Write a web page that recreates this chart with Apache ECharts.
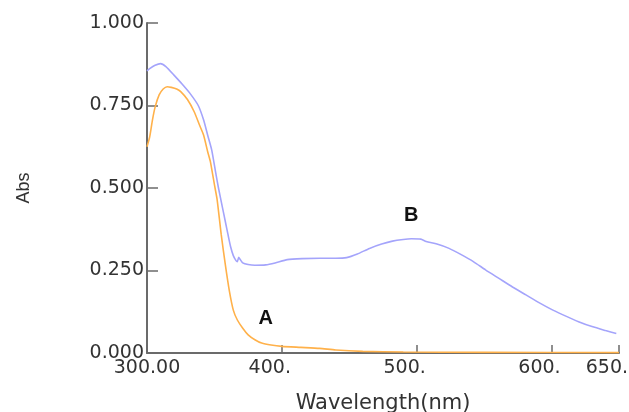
<!DOCTYPE html>
<html>
<head>
<meta charset="utf-8">
<script src="https://cdn.jsdelivr.net/npm/echarts@6/dist/echarts.min.js"></script>
<style>
  html, body { margin: 0; padding: 0; background: #fff; }
  #chart { width: 629px; height: 412px; }
</style>
</head>
<body>
<div id="chart"></div>
<script>
// wavelength ticks shown on the x axis
var xTicks = [300, 400, 500, 600, 650];
var xTickLabels = ['300.00', '400.', '500.', '600.', '650.'];

// curve B (blue)
var seriesB = [
  [300, 0.855], [302, 0.862], [306, 0.872], [310, 0.877], [314, 0.868], [320, 0.842],
  [326, 0.815], [332, 0.786], [338, 0.750], [342, 0.706], [345, 0.660], [348, 0.615],
  [351, 0.545], [353, 0.500], [356, 0.440], [358, 0.400], [360, 0.360], [362, 0.322],
  [364, 0.295], [366, 0.280], [367, 0.277], [368, 0.290], [369, 0.284], [371, 0.273],
  [375, 0.268], [380, 0.266], [388, 0.267], [395, 0.273], [404, 0.283], [415, 0.286],
  [428, 0.287], [440, 0.287], [448, 0.289], [456, 0.300], [465, 0.317], [474, 0.330],
  [482, 0.339], [490, 0.344], [496, 0.346], [503, 0.345], [507, 0.338], [515, 0.330],
  [524, 0.317], [533, 0.298], [542, 0.277], [551, 0.252], [561, 0.226], [571, 0.200],
  [581, 0.176], [591, 0.152], [601, 0.130], [611, 0.111], [620, 0.095], [630, 0.080],
  [640, 0.068], [648, 0.059]
];

// curve A (orange)
var seriesA = [
  [300, 0.625], [302, 0.655], [304, 0.705], [306, 0.745], [309, 0.782], [312, 0.800],
  [315, 0.807], [318, 0.805], [322, 0.800], [325, 0.792], [330, 0.768], [335, 0.731],
  [339, 0.690], [342, 0.660], [345, 0.610], [347, 0.580], [350, 0.510], [352, 0.465],
  [355, 0.360], [358, 0.270], [361, 0.190], [364, 0.130], [367, 0.100], [371, 0.075],
  [375, 0.055], [380, 0.040], [385, 0.030], [392, 0.024], [400, 0.020], [414, 0.017],
  [428, 0.014], [440, 0.009], [460, 0.005], [490, 0.003], [550, 0.002], [650, 0.001]
];

// where the letters A and B sit
var labelA = [388, 0.106];
var labelB = [496, 0.418];

var dom = document.getElementById('chart');
var myChart = echarts.init(dom, null, { renderer: 'canvas' });

var axisGray = '#6b6b6b';
var tickFont = 'DejaVu Sans';

var option = {
  animation: false,
  grid: { left: 147, right: 10, top: 23, bottom: 59, outerBoundsMode: 'none' },
  xAxis: {
    type: 'value',
    min: 300,
    max: 650,
    name: 'Wavelength(nm)',
    nameLocation: 'middle',
    nameGap: 40,
    nameTextStyle: { fontFamily: tickFont, fontSize: 21, color: '#333' },
    axisLine: { show: true, lineStyle: { color: axisGray, width: 2 } },
    axisTick: { show: true, inside: true, length: 8, customValues: xTicks, lineStyle: { color: axisGray, width: 1.5 } },
    axisLabel: {
      customValues: xTicks,
      margin: 6,
      formatter: function (v) {
        var t = xTickLabels[xTicks.indexOf(v)];
        // pad with invisible zeros so the visible part sits left of the tick
        return t.length < 6 ? '{a|' + t + '}{h|00}' : '{a|' + t + '}';
      },
      rich: {
        a: { fontFamily: tickFont, fontSize: 19, color: '#333' },
        h: { fontFamily: tickFont, fontSize: 19, color: 'rgba(0,0,0,0)' }
      }
    },
    splitLine: { show: false }
  },
  yAxis: {
    type: 'value',
    min: 0,
    max: 1,
    interval: 0.25,
    name: 'Abs',
    nameLocation: 'middle',
    nameRotate: 90,
    nameGap: 114,
    nameTextStyle: { fontFamily: 'Liberation Sans', fontSize: 18, color: '#333' },
    axisLine: { show: true, lineStyle: { color: axisGray, width: 2 } },
    axisTick: { show: true, inside: true, length: 11, lineStyle: { color: axisGray, width: 1.5 } },
    axisLabel: {
      margin: 3,
      fontFamily: tickFont,
      fontSize: 19,
      color: '#333',
      formatter: function (v) { return v.toFixed(3); }
    },
    splitLine: { show: false }
  },
  series: [
    {
      name: 'B',
      type: 'line',
      data: seriesB,
      showSymbol: false,
      smooth: 0.2,
      lineStyle: { color: '#a4a4fb', width: 1.6 },
      itemStyle: { color: '#a4a4fb' },
      markPoint: {
        symbol: 'circle',
        symbolSize: 1,
        itemStyle: { color: 'rgba(0,0,0,0)' },
        label: { show: true, position: 'inside', formatter: 'B', fontFamily: 'Liberation Sans', fontWeight: 'bold', fontSize: 20, color: '#111' },
        data: [{ coord: labelB }]
      },
      z: 2
    },
    {
      name: 'A',
      type: 'line',
      data: seriesA,
      showSymbol: false,
      smooth: 0.2,
      lineStyle: { color: '#ffb14a', width: 1.6 },
      itemStyle: { color: '#ffb14a' },
      markPoint: {
        symbol: 'circle',
        symbolSize: 1,
        itemStyle: { color: 'rgba(0,0,0,0)' },
        label: { show: true, position: 'inside', formatter: 'A', fontFamily: 'Liberation Sans', fontWeight: 'bold', fontSize: 20, color: '#111' },
        data: [{ coord: labelA }]
      },
      z: 3
    }
  ]
};

if (option && typeof option === 'object') {
  myChart.setOption(option);
}

window.addEventListener('resize', myChart.resize);
</script>
</body>
</html>
